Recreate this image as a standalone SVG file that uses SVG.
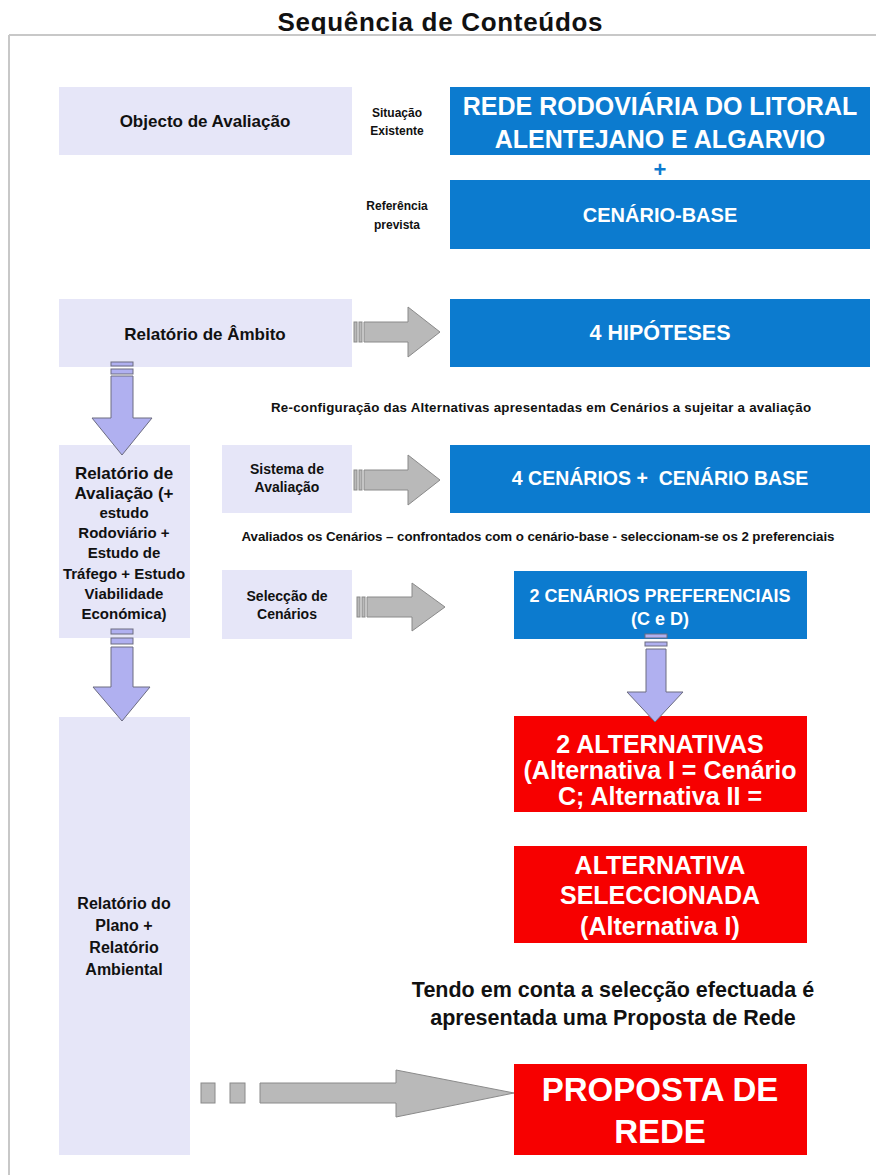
<svg xmlns="http://www.w3.org/2000/svg" width="876" height="1175" viewBox="0 0 876 1175">
<style>
text{font-family:"Liberation Sans",Arial,sans-serif;font-weight:bold;text-anchor:middle}
.lav{fill:#e6e6f8}
.blue{fill:#0c7bcf}
.red{fill:#f70000}
.dk{fill:#111}
.wt{fill:#fff}
.garrow{fill:#b9b9b9;stroke:#8a8a8a;stroke-width:1}
.larrow{fill:#b0b0f0;stroke:#6c6c80;stroke-width:1}
</style>
<rect width="876" height="1175" fill="#fff"/>
<text x="440" y="31" font-size="26" class="dk" textLength="325">Sequência de Conteúdos</text>
<path d="M9 35H876M9 35V1175" stroke="#c8c8c8" stroke-width="2" fill="none"/>

<g id="objecto"><rect class="lav" x="59" y="87" width="293" height="68"/><text x="205" y="127" font-size="17" class="dk">Objecto de Avaliação</text></g>
<g id="situacao"><text x="397" y="117" font-size="12" class="dk">Situação</text><text x="397" y="135" font-size="12" class="dk">Existente</text></g>
<g id="rede"><rect class="blue" x="450" y="87" width="420" height="68"/><text x="660" y="115" font-size="25" class="wt">REDE RODOVIÁRIA DO LITORAL</text><text x="660" y="148" font-size="25" class="wt">ALENTEJANO E ALGARVIO</text></g>
<g id="plus"><text x="660" y="177" font-size="22" fill="#0c7bcf">+</text></g>
<g id="referencia"><text x="397" y="210" font-size="12" class="dk">Referência</text><text x="397" y="229" font-size="12" class="dk">prevista</text></g>
<g id="cenariobase"><rect class="blue" x="450" y="180" width="420" height="69"/><text x="660" y="222" font-size="20" class="wt">CENÁRIO-BASE</text></g>

<g id="ambito"><rect class="lav" x="59" y="299" width="293" height="68"/><text x="205" y="340" font-size="17" class="dk">Relatório de Âmbito</text></g>
<g id="hipoteses"><rect class="blue" x="450" y="299" width="420" height="68"/><text x="660" y="340" font-size="21.5" class="wt">4 HIPÓTESES</text></g>
<g id="reconfig"><text x="541" y="412" font-size="13.3" class="dk" textLength="540">Re-configuração das Alternativas apresentadas em Cenários a sujeitar a avaliação</text></g>

<g id="avaliacao"><rect class="lav" x="59" y="445" width="131" height="193"/>
<text x="124" y="479" font-size="17" class="dk">Relatório de</text>
<text x="124" y="499" font-size="17" class="dk">Avaliação (+</text>
<text x="124" y="518" font-size="15" class="dk">estudo</text>
<text x="124" y="538" font-size="15" class="dk">Rodoviário +</text>
<text x="124" y="558" font-size="15" class="dk">Estudo de</text>
<text x="124" y="579" font-size="15" class="dk">Tráfego + Estudo</text>
<text x="124" y="599" font-size="15" class="dk">Viabilidade</text>
<text x="124" y="619" font-size="15" class="dk">Económica)</text></g>
<g id="sistema"><rect class="lav" x="222" y="445" width="130" height="68"/><text x="287" y="474" font-size="14" class="dk">Sistema de</text><text x="287" y="492" font-size="14" class="dk">Avaliação</text></g>
<g id="cenarios4"><rect class="blue" x="450" y="445" width="420" height="68"/><text x="660" y="485" font-size="19.5" class="wt" xml:space="preserve">4 CENÁRIOS +  CENÁRIO BASE</text></g>
<g id="avaliados"><text x="538" y="541" font-size="13.3" class="dk" textLength="593">Avaliados os Cenários – confrontados com o cenário-base - seleccionam-se os 2 preferenciais</text></g>
<g id="seleccao"><rect class="lav" x="222" y="570" width="130" height="69"/><text x="287" y="601" font-size="14" class="dk">Selecção de</text><text x="287" y="619" font-size="14" class="dk">Cenários</text></g>
<g id="preferenciais"><rect class="blue" x="514" y="571" width="293" height="68"/><text x="660" y="602" font-size="18" class="wt">2 CENÁRIOS PREFERENCIAIS</text><text x="660" y="625" font-size="18" class="wt">(C e D)</text></g>

<g id="plano"><rect class="lav" x="59" y="717" width="131" height="438"/>
<text x="124" y="909" font-size="16" class="dk">Relatório do</text>
<text x="124" y="931" font-size="16" class="dk">Plano +</text>
<text x="124" y="953" font-size="16" class="dk">Relatório</text>
<text x="124" y="975" font-size="16" class="dk">Ambiental</text></g>
<g id="alternativas"><rect class="red" x="514" y="716" width="293" height="96"/>
<text x="660" y="753" font-size="25" class="wt">2 ALTERNATIVAS</text>
<text x="660" y="779" font-size="25" class="wt">(Alternativa I = Cenário</text>
<text x="660" y="805" font-size="25" class="wt">C; Alternativa II =</text></g>
<g id="seleccionada"><rect class="red" x="514" y="846" width="293" height="97"/>
<text x="660" y="874" font-size="25" class="wt">ALTERNATIVA</text>
<text x="660" y="904" font-size="25" class="wt">SELECCIONADA</text>
<text x="660" y="935" font-size="25" class="wt">(Alternativa I)</text></g>
<g id="tendo"><text x="613" y="997" font-size="21.5" class="dk">Tendo em conta a selecção efectuada é</text><text x="613" y="1025" font-size="21.5" class="dk">apresentada uma Proposta de Rede</text></g>
<g id="proposta"><rect class="red" x="514" y="1064" width="293" height="91"/>
<text x="660" y="1101" font-size="33" class="wt">PROPOSTA DE</text>
<text x="660" y="1143" font-size="33" class="wt">REDE</text></g>

<g id="connectors">
<g class="garrow">
<rect x="354" y="322" width="3" height="20"/><rect x="359" y="322" width="3" height="20"/>
<path d="M364 322H408V307L440 332L408 357V342H364Z"/>
<rect x="354" y="470" width="3" height="20"/><rect x="359" y="470" width="3" height="20"/>
<path d="M364 470H408V455L440 480L408 505V490H364Z"/>
<rect x="357" y="597" width="3" height="20"/><rect x="362" y="597" width="3" height="20"/>
<path d="M367 597H412V583L445 607L412 631V617H367Z"/>
<rect x="201" y="1083" width="14" height="20"/><rect x="230" y="1083" width="15" height="20"/>
<path d="M260 1083H396V1070L514 1093L396 1117V1103H260Z"/>
</g>
<g class="larrow">
<rect x="111" y="362" width="22" height="4"/><rect x="111" y="369" width="22" height="5"/>
<path d="M111 376H133V418H152L122 455L92 418H111Z"/>
<rect x="111" y="629" width="22" height="5"/><rect x="111" y="638" width="22" height="6"/>
<path d="M111 647H133V687H150L122 721L93 687H111Z"/>
<rect x="645" y="634" width="22" height="4"/><rect x="645" y="642" width="22" height="4"/>
<path d="M646 649H666V692H683L655 722L627 692H646Z"/>
</g>
</g>
</svg>
